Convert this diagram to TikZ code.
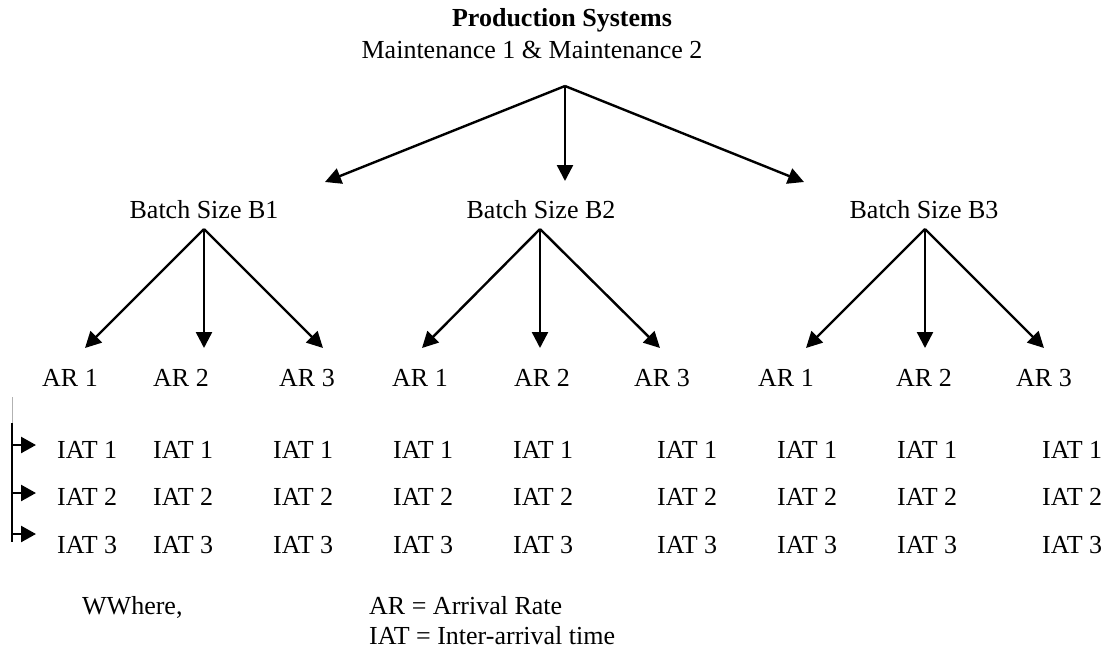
\documentclass[tikz,border=0pt]{standalone}
\usepackage{fontspec}
\setmainfont{Liberation Serif}
\usetikzlibrary{arrows.meta}
\begin{document}
\begin{tikzpicture}[x=1pt,y=-1pt,
  lbl/.style={font=\fontsize{26}{30}\selectfont, inner sep=0pt, anchor=base},
  lblw/.style={font=\fontsize{26}{30}\selectfont, inner sep=0pt, anchor=base west},
  arr/.style={line width=2.4pt, -{Triangle[length=16pt,width=16pt]}},
  sarr/.style={line width=2.4pt, -{Triangle[length=15pt,width=16pt]}},
  bar/.style={line width=2.4pt},
  faint/.style={line width=0.8pt, gray!60}]
\useasboundingbox (0,0) rectangle (1108,649);

% texts
\node[lbl] (title) at (562,26) {\textbf{Production Systems}};
\node[lbl] (maint) at (532,58) {Maintenance 1 \& Maintenance 2};
\node[lbl] (b1) at (204,218) {Batch Size B1};
\node[lbl] (b2) at (541,218) {Batch Size B2};
\node[lbl] (b3) at (924,218) {Batch Size B3};

\foreach \x/\t/\n in {70/1/a1, 181/2/a2, 307/3/a3, 420/1/a4, 542/2/a5, 662/3/a6, 786/1/a7, 924/2/a8, 1044/3/a9}
  \node[lbl] (\n) at (\x,386) {AR \t};

\foreach \x [count=\c] in {57,153,273,393,513,657,777,897,1042}{
  \node[lblw] (i1c\c) at (\x,458) {IAT 1};
  \node[lblw] (i2c\c) at (\x,505) {IAT 2};
  \node[lblw] (i3c\c) at (\x,553) {IAT 3};
}

\node[lblw] (where) at (82,614) {WWhere,};
\node[lblw] (legar) at (369,614) {AR = Arrival Rate};
\node[lblw, text depth=0pt] (legiat) at (369,644) {IAT = Inter-arrival time};

% connector points
\coordinate (mtop) at (565,86);
\coordinate (tb1) at (325,182);
\coordinate (tb2) at (565,181);
\coordinate (tb3) at (804,182);

\coordinate (p1) at (204,229);
\coordinate (p2) at (540,229);
\coordinate (p3) at (925,229);

\coordinate (q1) at (85,348);
\coordinate (q2) at (204,348);
\coordinate (q3) at (323,348);
\coordinate (q4) at (422,348);
\coordinate (q5) at (540,348);
\coordinate (q6) at (660,348);
\coordinate (q7) at (806,348);
\coordinate (q8) at (925,348);
\coordinate (q9) at (1044,348);

% top arrows
\draw[arr] (mtop) -- (tb1);
\draw[arr] (mtop) -- (tb2);
\draw[arr] (mtop) -- (tb3);

% batch arrows
\draw[arr] (p1) -- (q1);
\draw[arr] (p1) -- (q2);
\draw[arr] (p1) -- (q3);
\draw[arr] (p2) -- (q4);
\draw[arr] (p2) -- (q5);
\draw[arr] (p2) -- (q6);
\draw[arr] (p3) -- (q7);
\draw[arr] (p3) -- (q8);
\draw[arr] (p3) -- (q9);

% left bracket
\coordinate (g0) at (12,397);
\coordinate (g1) at (12,423);
\coordinate (g2) at (12,542);
\coordinate (r1) at (12,445);
\coordinate (r2) at (12,493);
\coordinate (r3) at (12,534);
\coordinate (s1) at (36,445);
\coordinate (s2) at (36,493);
\coordinate (s3) at (36,534);
\draw[faint] (g0) -- (g1);
\draw[bar] (g1) -- (g2);
\draw[sarr] (r1) -- (s1);
\draw[sarr] (r2) -- (s2);
\draw[sarr] (r3) -- (s3);
\end{tikzpicture}
\end{document}
